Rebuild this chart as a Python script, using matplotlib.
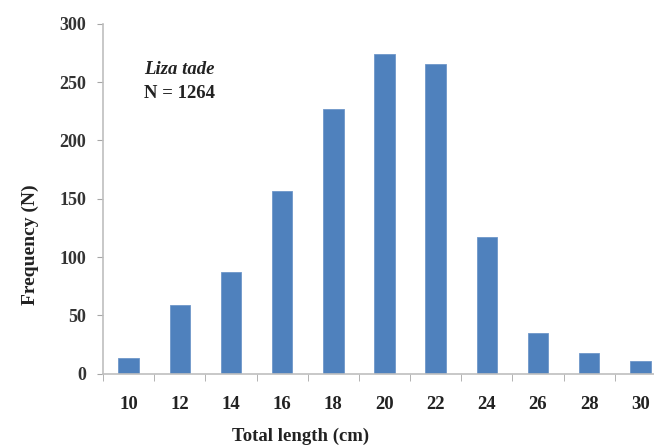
import matplotlib
matplotlib.use("Agg")
import matplotlib.pyplot as plt
import numpy as np

# total length classes (cm) and counts
lengths = ['10', '12', '14', '16', '18', '20', '22', '24', '26', '28', '30']
freq = [13, 59, 87, 157, 227, 274, 266, 117, 35, 18, 11]

plt.rcParams['font.family'] = ['Liberation Serif', 'DejaVu Serif']
plt.rcParams['font.weight'] = 'bold'

fig = plt.figure(figsize=(6.54, 4.48), dpi=100)
ax = fig.add_axes([103 / 654, 1 - 373.5 / 448, 563 / 654, 349.5 / 448])

x = np.arange(len(lengths))
ax.bar(x, freq, width=0.4, color='#4f81bd', edgecolor='#6f97c9', linewidth=0.6)

ax.set_xlim(-0.5, len(lengths) - 0.5)
ax.set_ylim(0, 300)
ax.set_yticks([0, 50, 100, 150, 200, 250, 300])
ax.set_xticks(x)
ax.set_xticklabels(lengths)
ax.set_xticks(np.arange(len(lengths) + 1) - 0.5, minor=True)
ax.tick_params(axis='x', which='major', length=0, pad=16, labelsize=13.5,
               labelcolor='#222222')
ax.tick_params(axis='x', which='minor', length=5, color='#a6a6a6', direction='out')
ax.tick_params(axis='y', length=4, color='#a6a6a6', pad=8, labelsize=13,
               labelcolor='#333333')

for s in ['top', 'right']:
    ax.spines[s].set_visible(False)
for s in ['left', 'bottom']:
    ax.spines[s].set_color('#bfbfbf')
    ax.spines[s].set_linewidth(1.2)

fig.text(30 / 654, 1 - 245 / 448, 'Frequency (N)', rotation=90, ha='center',
         va='center', fontsize=14, fontweight='bold', color='#222222')
fig.text(301 / 654, 3 / 448, 'Total length (cm)', ha='center', va='bottom',
         fontsize=13.5, fontweight='bold', color='#222222')

ax.text(41 / 563, 1 - 50 / 349.5, 'Liza tade', transform=ax.transAxes,
        fontsize=13.5, fontstyle='italic', fontweight='bold', color='#222222')
ax.text(41 / 563, 1 - 74 / 349.5, 'N = 1264', transform=ax.transAxes,
        fontsize=13.5, fontweight='bold', color='#222222')

fig.savefig('out.png', dpi=100)
